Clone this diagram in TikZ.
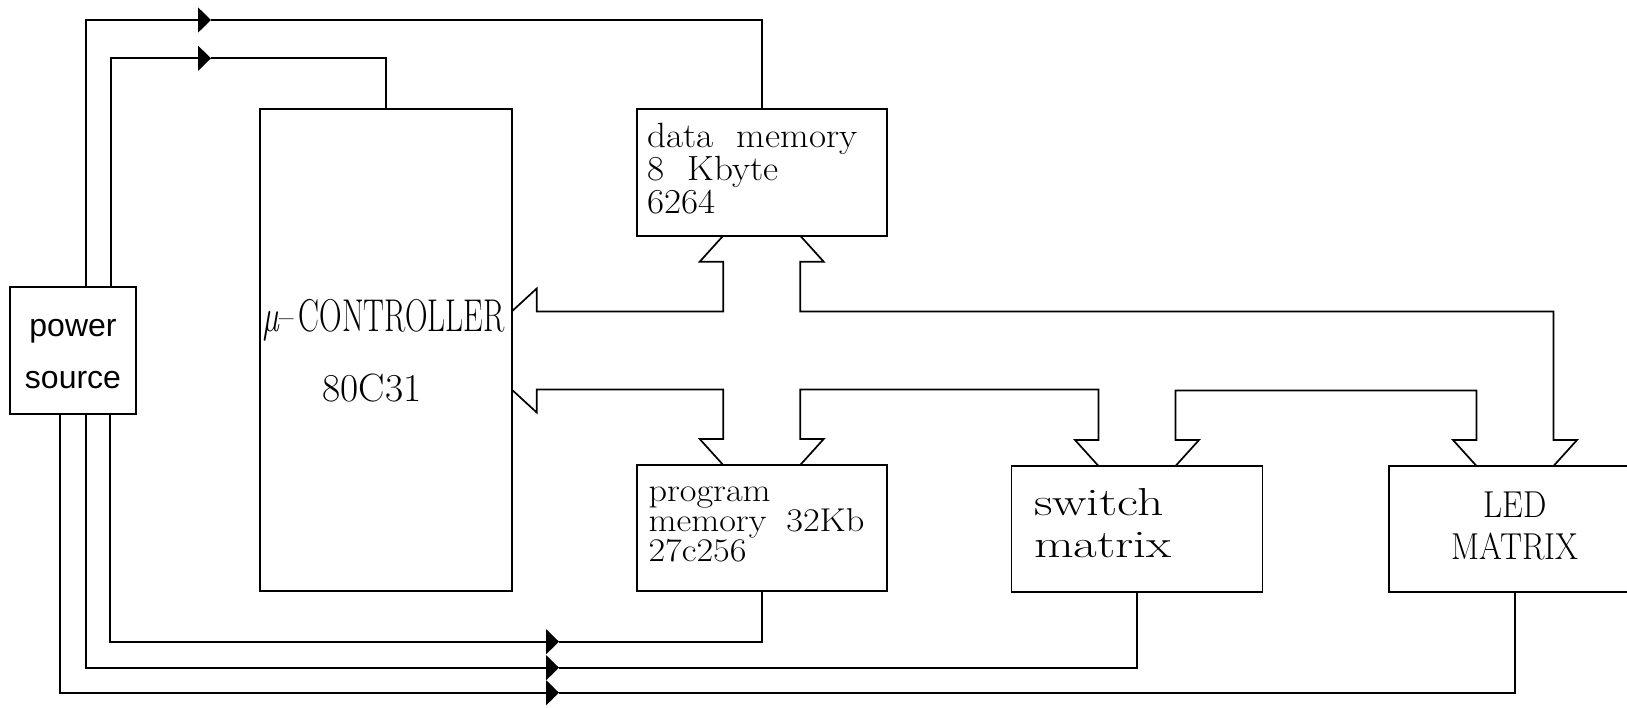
\documentclass[tikz,border=0pt]{standalone}
\usepackage{fontspec}
\newfontfamily\sansf{Liberation Sans}
\usetikzlibrary{arrows.meta,calc}
\tikzset{
  box/.style={draw, line width=1.7pt, rectangle, inner sep=0pt, outer sep=0pt},
  wire/.style={line width=1.7pt},
  pwr/.style={wire, -{Triangle[length=13pt,width=25pt]}},
  lt/.style={inner sep=0pt, outer sep=0pt, anchor=base west},
  ct/.style={inner sep=0pt, outer sep=0pt, anchor=base},
}
\newcommand{\memtext}[1]{\scalebox{1.06}[1]{\fontsize{35}{35}\selectfont #1}}
\newcommand{\pmtext}[1]{\scalebox{1.1}[1]{\fontsize{33}{33}\selectfont #1}}
\begin{document}
\begin{tikzpicture}[x=1pt,y=-1pt]
\fill[white] (0,0) rectangle (1627,707);
\useasboundingbox (0,0) rectangle (1627,707);
\clip (0,0) rectangle (1627,707);

% boxes
\node[box, minimum width=126pt, minimum height=127pt] (pw) at (73,350.5) {};
\node[box, minimum width=251.7pt, minimum height=482pt] (cpu) at (385.85,350) {};
\node[box, minimum width=250pt, minimum height=126.4pt] (dmem) at (761.7,172.5) {};
\node[box, minimum width=250pt, minimum height=126pt] (pmem) at (761.7,528) {};
\node[box, minimum width=251pt, minimum height=126pt] (sw) at (1137,529) {};
\node[box, minimum width=252pt, minimum height=126pt] (led) at (1515,529) {};

% texts
\node[ct, font=\sansf\fontsize{32}{32}\selectfont] (pwt1) at (73,336.7) {power};
\node[ct, font=\sansf\fontsize{32}{32}\selectfont] (pwt2) at (73,388) {source};

\node[ct] (cput1) at (384,331) {\scalebox{0.68}[1]{\fontsize{46}{46}\selectfont{\itshape µ}–\,CONTROLLER}};
\node[ct, font=\fontsize{39.5}{39.5}\selectfont] (cput2) at (372,401.7) {80C31};

\node[lt] (dm1) at (647.7,147.3) {\memtext{data\hspace{0.62em}memory}};
\node[lt] (dm2) at (647.7,180.7) {\memtext{8\hspace{0.62em}Kbyte}};
\node[lt] (dm3) at (647.7,213.3) {\memtext{6264}};

\node[lt] (pm1) at (648.5,501) {\pmtext{program}};
\node[lt] (pm2) at (648.5,531) {\pmtext{memory\hspace{0.55em}32Kb}};
\node[lt] (pm3) at (648.5,561) {\pmtext{27c256}};

\node[lt] (sw1) at (1034,515) {\scalebox{1.32}[1]{\fontsize{39}{39}\selectfont switch}};
\node[lt] (sw2) at (1034,557.7) {\scalebox{1.32}[1]{\fontsize{39}{39}\selectfont matrix}};

\node[ct] (ld1) at (1515,517) {\scalebox{0.88}[1]{\fontsize{37.5}{37.5}\selectfont LED}};
\node[ct] (ld2) at (1515,559) {\scalebox{0.88}[1]{\fontsize{37.5}{37.5}\selectfont MATRIX}};

% power wires
\draw[pwr] ([xshift=13pt]pw.north) |- (211,20) coordinate (t1);
\draw[wire] (t1) -| (dmem.north);
\draw[pwr] ([xshift=37.7pt]pw.north) |- (211,58.3) coordinate (t2);
\draw[wire] (t2) -| (cpu.north);
\draw[pwr] ([xshift=37pt]pw.south) |- (559,641.7) coordinate (b1);
\draw[wire] (b1) -| (pmem.south);
\draw[pwr] ([xshift=13pt]pw.south) |- (559,667.7) coordinate (b2);
\draw[wire] (b2) -| (sw.south);
\draw[pwr] ([xshift=-13pt]pw.south) |- (559,692.7) coordinate (b3);
\draw[wire] (b3) -| (led.south);

% bus levels
\coordinate (ub) at (0,311.5);
\coordinate (lb) at (0,389.5);
\coordinate (lb2) at (0,390.5);

% upper bus: CPU <-> data memory <-> LED matrix
\draw[wire] (cpu.east |- ub) -- ++(25,-23) -- ++(0,23)
  -| ($(dmem.south)+(-38.5,26)$) -- ++(-23.5,0) -- ($(dmem.south)+(-38.5,0)$);
\draw[wire] ($(dmem.south)+(38.5,0)$) -- ++(23.5,26) -- ++(-23.5,0)
  |- ($(led.north |- ub)+(38.5,0)$) -- ($(led.north)+(38.5,-26)$) -- ++(23.5,0)
  -- ($(led.north)+(38.5,0)$);

% lower bus: CPU <-> program memory <-> switch matrix <-> LED matrix
\draw[wire] (cpu.east |- lb) -- ++(25,23) -- ++(0,-23)
  -| ($(pmem.north)+(-38.5,-26)$) -- ++(-23.5,0) -- ($(pmem.north)+(-38.5,0)$);
\draw[wire] ($(pmem.north)+(38.5,0)$) -- ++(23.5,-26) -- ++(-23.5,0)
  |- ($(sw.north |- lb)+(-38.5,0)$) -- ($(sw.north)+(-38.5,-26)$) -- ++(-23.5,0)
  -- ($(sw.north)+(-38.5,0)$);
\draw[wire] ($(sw.north)+(38.5,0)$) -- ++(23.5,-26) -- ++(-23.5,0)
  |- ($(led.north |- lb2)+(-38.5,0)$) -- ($(led.north)+(-38.5,-26)$) -- ++(-23.5,0)
  -- ($(led.north)+(-38.5,0)$);
\end{tikzpicture}
\end{document}
